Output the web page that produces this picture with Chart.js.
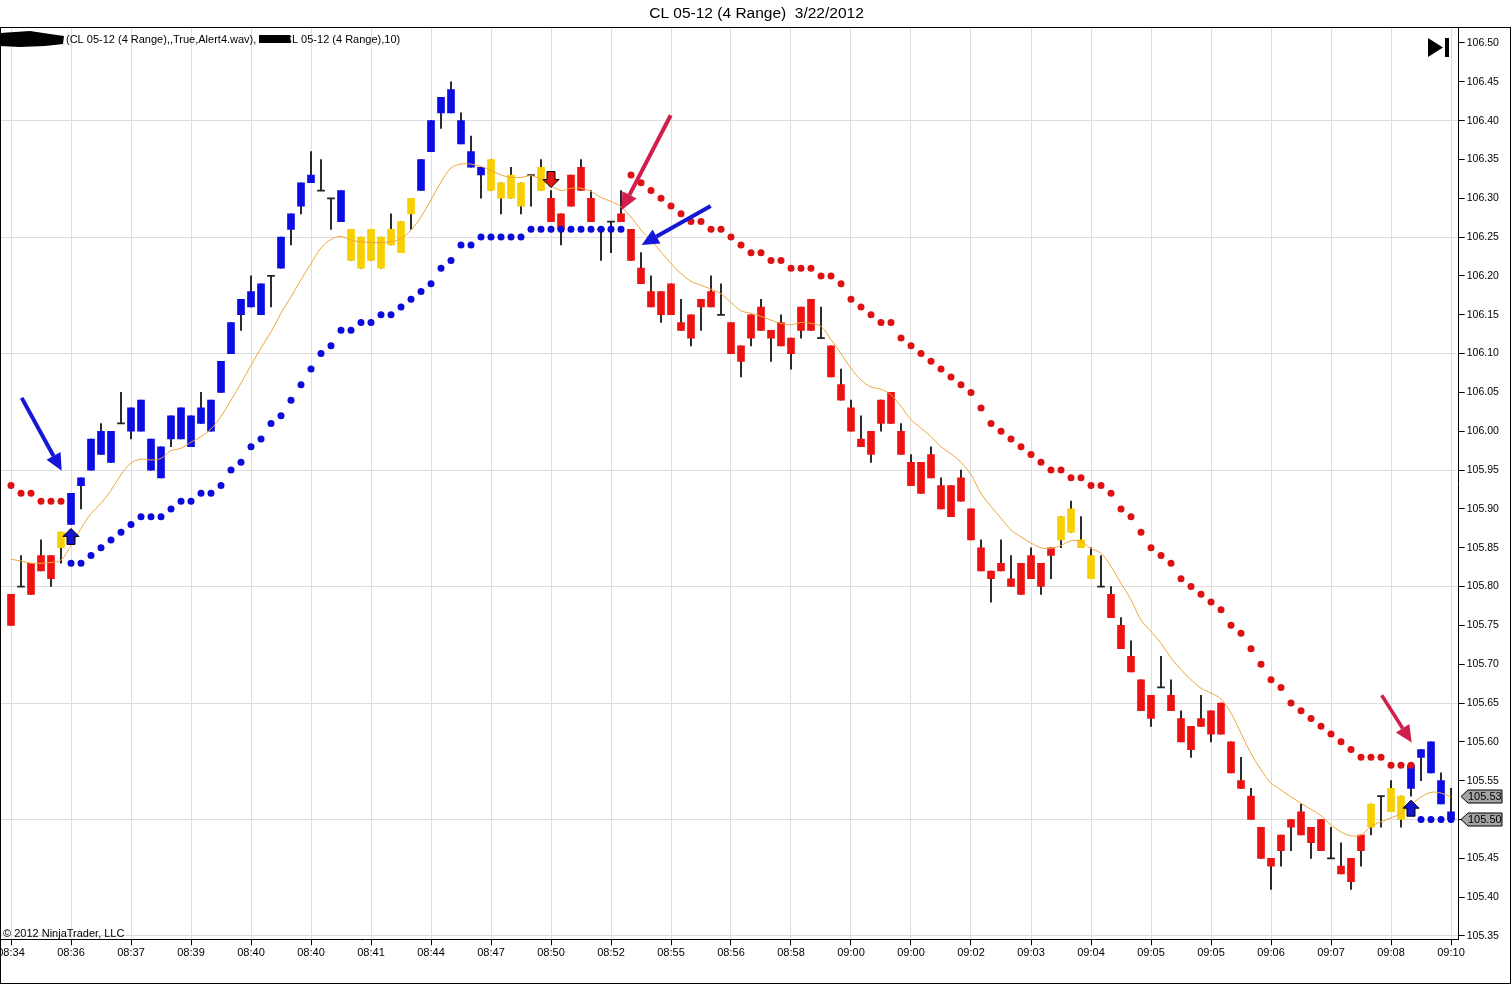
<!DOCTYPE html>
<html>
<head>
<meta charset="utf-8">
<title>CL 05-12 (4 Range) 3/22/2012</title>
<script src="https://cdn.jsdelivr.net/npm/chart.js@4.4.1/dist/chart.umd.min.js"></script>
<style>
  html, body { margin: 0; padding: 0; background: #fff; overflow: hidden; }
  canvas { display: block; }
</style>
</head>
<body>
<canvas id="grafico" width="1512" height="985"></canvas>
<script>
// time labels, one every 6 range bars
var timeLabels = ['08:34','08:36','08:37','08:39','08:40','08:40','08:41','08:44','08:47','08:50','08:52','08:55','08:56',
                  '08:58','09:00','09:00','09:02','09:03','09:04','09:05','09:05','09:06','09:07','09:08','09:10'];

var priceTicks = [105.35,105.40,105.45,105.50,105.55,105.60,105.65,105.70,105.75,105.80,105.85,105.90,
                  105.95,106.00,106.05,106.10,106.15,106.20,106.25,106.30,106.35,106.40,106.45,106.50];

// OHLC of the 145 range bars
var barHigh = [
  105.79,105.84,105.83,105.86,105.84,105.87,105.92,105.94,105.99,106.01,
  106.00,106.05,106.03,106.04,105.99,105.98,106.02,106.03,106.02,106.05,
  106.04,106.09,106.14,106.17,106.20,106.19,106.20,106.25,106.28,106.32,
  106.36,106.35,106.30,106.31,106.26,106.25,106.26,106.25,106.28,106.27,
  106.30,106.35,106.40,106.43,106.45,106.41,106.38,106.34,106.35,106.32,
  106.34,106.32,106.33,106.35,106.31,106.28,106.33,106.35,106.31,106.26,
  106.27,106.31,106.26,106.23,106.20,106.18,106.19,106.17,106.15,106.17,
  106.20,106.19,106.14,106.11,106.15,106.17,106.13,106.15,106.12,106.16,
  106.17,106.16,106.11,106.08,106.04,106.02,106.00,106.04,106.05,106.01,
  105.97,105.96,105.98,105.94,105.93,105.95,105.90,105.86,105.82,105.86,
  105.84,105.83,105.85,105.83,105.85,105.89,105.91,105.89,105.85,105.84,
  105.80,105.76,105.73,105.68,105.66,105.71,105.68,105.64,105.62,105.66,
  105.64,105.65,105.60,105.58,105.54,105.49,105.45,105.48,105.50,105.52,
  105.49,105.50,105.49,105.47,105.45,105.48,105.52,105.53,105.55,105.53,
  105.57,105.59,105.60,105.56,105.54];
var barLow = [
  105.75,105.80,105.79,105.82,105.80,105.83,105.88,105.90,105.95,105.97,
  105.96,106.01,105.99,106.00,105.95,105.94,105.98,105.99,105.98,106.01,
  106.00,106.05,106.10,106.13,106.16,106.15,106.16,106.21,106.24,106.28,
  106.32,106.31,106.26,106.27,106.22,106.21,106.22,106.21,106.24,106.23,
  106.26,106.31,106.36,106.39,106.41,106.37,106.34,106.30,106.31,106.28,
  106.30,106.28,106.29,106.31,106.27,106.24,106.29,106.31,106.27,106.22,
  106.23,106.27,106.22,106.19,106.16,106.14,106.15,106.13,106.11,106.13,
  106.16,106.15,106.10,106.07,106.11,106.13,106.09,106.11,106.08,106.12,
  106.13,106.12,106.07,106.04,106.00,105.98,105.96,106.00,106.01,105.97,
  105.93,105.92,105.94,105.90,105.89,105.91,105.86,105.82,105.78,105.82,
  105.80,105.79,105.81,105.79,105.81,105.85,105.87,105.85,105.81,105.80,
  105.76,105.72,105.69,105.64,105.62,105.67,105.64,105.60,105.58,105.62,
  105.60,105.61,105.56,105.54,105.50,105.45,105.41,105.44,105.46,105.48,
  105.45,105.46,105.45,105.43,105.41,105.44,105.48,105.49,105.51,105.49,
  105.53,105.55,105.56,105.52,105.50];
var barOpen = [
  105.79,105.80,105.83,105.84,105.84,105.85,105.88,105.93,105.95,105.97,
  105.96,106.01,106.00,106.00,105.95,105.94,105.99,105.99,105.98,106.01,
  106.00,106.05,106.10,106.15,106.16,106.15,106.20,106.21,106.26,106.29,
  106.32,106.31,106.30,106.27,106.26,106.21,106.26,106.21,106.24,106.23,
  106.28,106.31,106.36,106.41,106.41,106.40,106.36,106.34,106.35,106.32,
  106.30,106.32,106.33,106.31,106.30,106.28,106.33,106.34,106.30,106.26,
  106.27,106.28,106.26,106.21,106.18,106.18,106.19,106.14,106.15,106.17,
  106.18,106.15,106.14,106.11,106.15,106.16,106.13,106.14,106.12,106.16,
  106.17,106.12,106.11,106.06,106.03,105.99,106.00,106.04,106.05,106.00,
  105.96,105.96,105.97,105.93,105.93,105.94,105.90,105.85,105.82,105.83,
  105.81,105.83,105.84,105.83,105.85,105.86,105.87,105.86,105.84,105.80,
  105.79,105.75,105.71,105.68,105.66,105.67,105.66,105.63,105.62,105.63,
  105.64,105.65,105.60,105.55,105.53,105.49,105.45,105.48,105.50,105.51,
  105.49,105.50,105.45,105.44,105.45,105.48,105.49,105.53,105.51,105.50,
  105.54,105.58,105.56,105.55,105.51];
var barClose = [
  105.75,105.80,105.79,105.82,105.81,105.87,105.92,105.94,105.99,106.00,
  106.00,106.01,106.03,106.04,105.99,105.98,106.02,106.03,106.02,106.03,
  106.04,106.09,106.14,106.17,106.18,106.19,106.20,106.25,106.28,106.32,
  106.33,106.31,106.30,106.31,106.22,106.25,106.22,106.25,106.26,106.27,
  106.30,106.35,106.40,106.43,106.44,106.37,106.34,106.33,106.31,106.30,
  106.33,106.29,106.33,106.34,106.27,106.26,106.29,106.31,106.27,106.26,
  106.27,106.27,106.22,106.19,106.16,106.15,106.15,106.13,106.12,106.16,
  106.16,106.15,106.10,106.09,106.12,106.13,106.12,106.11,106.10,106.13,
  106.13,106.12,106.07,106.04,106.00,105.98,105.97,106.01,106.01,105.97,
  105.93,105.92,105.94,105.90,105.89,105.91,105.86,105.82,105.81,105.82,
  105.80,105.79,105.81,105.80,105.84,105.89,105.90,105.85,105.81,105.80,
  105.76,105.72,105.69,105.64,105.63,105.67,105.64,105.60,105.59,105.62,
  105.61,105.61,105.56,105.54,105.50,105.45,105.44,105.46,105.49,105.48,
  105.47,105.46,105.45,105.43,105.42,105.46,105.52,105.53,105.54,105.53,
  105.57,105.59,105.60,105.52,105.50];

// paint-bar state: r = down trend, b = up trend, y = neutral
var barState = 'rrrrrybbbb' + 'bbbbbbbbbb' + 'bbbbbbbbbb' + 'bbbbyyyyyy' + 'ybbbbbbbyy' +
               'yyyyrrrrrr' + 'rrrrrrrrrr' + 'rrrrrrrrrr' + 'rrrrrrrrrr' + 'rrrrrrrrrr' +
               'rrrrryyyyy' + 'rrrrrrrrrr' + 'rrrrrrrrrr' + 'rrrrrryyyy' + 'bbbbb';

// moving average (orange line)
var maValues = [
  105.835,105.833,105.830,105.830,105.831,105.834,105.853,105.875,105.894,105.907,
  105.924,105.944,105.959,105.964,105.963,105.965,105.975,105.978,105.986,105.993,
  106.003,106.019,106.040,106.062,106.085,106.107,106.128,106.152,106.173,106.195,
  106.216,106.236,106.247,106.251,106.246,106.244,106.243,106.243,106.244,106.248,
  106.259,106.276,106.298,106.321,106.339,106.344,106.344,106.341,106.336,106.330,
  106.327,106.327,106.329,106.324,106.316,106.310,106.313,106.313,106.309,106.301,
  106.296,106.289,106.276,106.259,106.246,106.231,106.216,106.203,106.193,106.188,
  106.183,106.177,106.166,106.155,106.152,106.148,106.143,106.139,106.137,106.140,
  106.139,106.135,106.118,106.100,106.081,106.066,106.057,106.054,106.047,106.032,
  106.015,106.004,105.993,105.980,105.971,105.960,105.944,105.920,105.903,105.888,
  105.873,105.864,105.856,105.850,105.849,105.853,105.859,105.858,105.849,105.843,
  105.826,105.804,105.783,105.757,105.742,105.727,105.708,105.693,105.680,105.669,
  105.663,105.655,105.637,105.611,105.585,105.564,105.547,105.538,105.529,105.521,
  105.513,105.505,105.493,105.484,105.479,105.480,105.491,105.497,105.502,105.508,
  105.519,105.529,105.535,105.534,105.529];

// trailing stop above price (red dots)
var stopAbove = [
  105.93,105.92,105.92,105.91,105.91,105.91,null,null,null,null,
  null,null,null,null,null,null,null,null,null,null,
  null,null,null,null,null,null,null,null,null,null,
  null,null,null,null,null,null,null,null,null,null,
  null,null,null,null,null,null,null,null,null,null,
  null,null,null,null,null,null,null,null,null,null,
  null,null,106.33,106.32,106.31,106.30,106.29,106.28,106.27,106.27,
  106.26,106.26,106.25,106.24,106.23,106.23,106.22,106.22,106.21,106.21,
  106.21,106.20,106.20,106.19,106.17,106.16,106.15,106.14,106.14,106.12,
  106.11,106.10,106.09,106.08,106.07,106.06,106.05,106.03,106.01,106.00,
  105.99,105.98,105.97,105.96,105.95,105.95,105.94,105.94,105.93,105.93,
  105.92,105.90,105.89,105.87,105.85,105.84,105.83,105.81,105.80,105.79,
  105.78,105.77,105.75,105.74,105.72,105.70,105.68,105.67,105.65,105.64,
  105.63,105.62,105.61,105.60,105.59,105.58,105.58,105.58,105.57,105.57,
  105.57,null,null,null,null];

// trailing stop below price (blue dots)
var stopBelow = [
  null,null,null,null,null,null,105.83,105.83,105.84,105.85,
  105.86,105.87,105.88,105.89,105.89,105.89,105.90,105.91,105.91,105.92,
  105.92,105.93,105.95,105.96,105.98,105.99,106.01,106.02,106.04,106.06,
  106.08,106.10,106.11,106.13,106.13,106.14,106.14,106.15,106.15,106.16,
  106.17,106.18,106.19,106.21,106.22,106.24,106.24,106.25,106.25,106.25,
  106.25,106.25,106.26,106.26,106.26,106.26,106.26,106.26,106.26,106.26,
  106.26,106.26,null,null,null,null,null,null,null,null,
  null,null,null,null,null,null,null,null,null,null,
  null,null,null,null,null,null,null,null,null,null,
  null,null,null,null,null,null,null,null,null,null,
  null,null,null,null,null,null,null,null,null,null,
  null,null,null,null,null,null,null,null,null,null,
  null,null,null,null,null,null,null,null,null,null,
  null,null,null,null,null,null,null,null,null,null,
  null,105.50,105.50,105.50,105.50];

// signal markers (bar index)
var upSignals = [6, 140];
var downSignals = [54];

// hand drawn arrows, [bar index, price] from -> to
var noteFrom = [[1.07, 106.043], [65.97, 106.407], [69.97, 106.290], [137.07, 105.660]];
var noteTo   = [[5.07, 105.949], [61.07, 106.285], [63.07, 106.240], [140.07, 105.599]];
var noteKind = ['blue', 'crimson', 'blue', 'crimson'];

// last values shown on the price axis
var priceMarkers = [105.53, 105.50];

var FONT = "'Liberation Sans', Arial, sans-serif";
var colores = { r: '#EE1111', b: '#0C0CE4', y: '#F8D000' };
var notaColores = { blue: '#1616D8', crimson: '#D21E4C' };

function dibujarFlechaBloque(ctx, cx, t, d, relleno) {
    ctx.beginPath();
    ctx.moveTo(cx, t);
    ctx.lineTo(cx + 8, t + 8 * d);
    ctx.lineTo(cx + 4, t + 8 * d);
    ctx.lineTo(cx + 4, t + 16 * d);
    ctx.lineTo(cx - 4, t + 16 * d);
    ctx.lineTo(cx - 4, t + 8 * d);
    ctx.lineTo(cx - 8, t + 8 * d);
    ctx.closePath();
    ctx.fillStyle = relleno;
    ctx.fill();
    ctx.lineWidth = 1;
    ctx.strokeStyle = '#000';
    ctx.stroke();
}

function dibujarFlecha(ctx, x0, y0, x1, y1, color, ancho) {
    var ang = Math.atan2(y1 - y0, x1 - x0);
    var largo = 17, medio = 8;
    var bx = x1 - largo * Math.cos(ang), by = y1 - largo * Math.sin(ang);
    ctx.strokeStyle = color;
    ctx.lineWidth = ancho;
    ctx.lineCap = 'butt';
    ctx.beginPath();
    ctx.moveTo(x0, y0);
    ctx.lineTo(bx, by);
    ctx.stroke();
    ctx.fillStyle = color;
    ctx.beginPath();
    ctx.moveTo(x1, y1);
    ctx.lineTo(bx + medio * Math.sin(ang), by - medio * Math.cos(ang));
    ctx.lineTo(bx - medio * Math.sin(ang), by + medio * Math.cos(ang));
    ctx.closePath();
    ctx.fill();
}

var extras = {
    id: 'extras',
    afterDatasetsDraw: function (chart) {
        var ctx = chart.ctx, x = chart.scales.x, y = chart.scales.y;
        ctx.save();
        upSignals.forEach(function (i) {
            dibujarFlechaBloque(ctx, x.getPixelForValue(i), y.getPixelForValue(barLow[i]) + 4, 1, '#1414CC');
        });
        downSignals.forEach(function (i) {
            dibujarFlechaBloque(ctx, x.getPixelForValue(i), y.getPixelForValue(barHigh[i]) - 3, -1, '#E01414');
        });
        for (var k = 0; k < noteFrom.length; k++) {
            dibujarFlecha(ctx,
                x.getPixelForValue(noteFrom[k][0]), y.getPixelForValue(noteFrom[k][1]),
                x.getPixelForValue(noteTo[k][0]), y.getPixelForValue(noteTo[k][1]),
                notaColores[noteKind[k]], k === 3 ? 3.5 : 4);
        }
        ctx.restore();
    },
    afterDraw: function (chart) {
        var ctx = chart.ctx, y = chart.scales.y;
        ctx.save();

        // indicator line (names blacked out in the original)
        ctx.font = '11px ' + FONT;
        ctx.fillStyle = '#000';
        ctx.textBaseline = 'alphabetic';
        ctx.fillText('(CL 05-12 (4 Range),,True,Alert4.wav),', 66, 43);
        ctx.fillText('CL 05-12 (4 Range),10)', 284, 43);
        ctx.beginPath();
        ctx.moveTo(0, 33); ctx.lineTo(30, 31); ctx.lineTo(50, 34); ctx.lineTo(64, 36); ctx.lineTo(63, 44);
        ctx.lineTo(45, 46); ctx.lineTo(20, 47); ctx.lineTo(0, 46); ctx.closePath();
        ctx.fill();
        ctx.beginPath();
        ctx.moveTo(259, 35); ctx.lineTo(290, 35); ctx.lineTo(291, 43); ctx.lineTo(259, 43); ctx.closePath();
        ctx.fill();

        // go-to-end button
        ctx.beginPath();
        ctx.moveTo(1428, 38); ctx.lineTo(1443, 47.5); ctx.lineTo(1428, 57); ctx.closePath();
        ctx.fill();
        ctx.fillRect(1445, 38, 4, 19);

        ctx.fillText('\u00A9 2012 NinjaTrader, LLC', 3, 937);

        // price markers on the axis
        priceMarkers.forEach(function (v) {
            var py = Math.round(y.getPixelForValue(v)) + 0.5;
            ctx.beginPath();
            ctx.moveTo(1461, py);
            ctx.lineTo(1468, py - 6.5);
            ctx.lineTo(1502, py - 6.5);
            ctx.lineTo(1502, py + 6.5);
            ctx.lineTo(1468, py + 6.5);
            ctx.closePath();
            ctx.fillStyle = '#A4A4A4';
            ctx.fill();
            ctx.strokeStyle = '#000';
            ctx.lineWidth = 1;
            ctx.stroke();
            ctx.fillStyle = '#000';
            ctx.textBaseline = 'middle';
            ctx.fillText(v.toFixed(2), 1468, py + 0.5);
        });

        // outer frame
        ctx.strokeStyle = '#000';
        ctx.lineWidth = 1;
        ctx.strokeRect(0.5, 27.5, 1510, 956);
        ctx.restore();
    }
};

var cuerpos = barOpen.map(function (o, i) {
    var c = barClose[i];
    if (o === c) return { x: i, y: [o - 0.0007, o + 0.0007] };
    return { x: i, y: [Math.min(o, c), Math.max(o, c)] };
});
var coloresCuerpo = barOpen.map(function (o, i) {
    return o === barClose[i] ? '#222' : colores[barState[i]];
});

var grafico = new Chart(document.getElementById('grafico'), {
    type: 'bar',
    data: {
        datasets: [
            {
                type: 'line', label: 'MA',
                data: maValues.map(function (v, i) { return { x: i, y: v }; }),
                borderColor: '#EFA63C', borderWidth: 1, pointRadius: 0, tension: 0.35, order: 0
            },
            {
                type: 'line', label: 'Stop arriba',
                data: stopAbove.map(function (v, i) { return { x: i, y: v }; }),
                showLine: false, pointRadius: 3.5, pointBorderWidth: 0,
                pointBackgroundColor: '#DD1111', order: 1
            },
            {
                type: 'line', label: 'Stop abajo',
                data: stopBelow.map(function (v, i) { return { x: i, y: v }; }),
                showLine: false, pointRadius: 3.5, pointBorderWidth: 0,
                pointBackgroundColor: '#0A0ADA', order: 1
            },
            {
                label: 'Cuerpo', data: cuerpos, backgroundColor: coloresCuerpo,
                barThickness: 7, grouped: false, borderWidth: 0, order: 2
            },
            {
                label: 'Mecha',
                data: barHigh.map(function (h, i) { return { x: i, y: [barLow[i], h] }; }),
                backgroundColor: '#000', barThickness: 1, grouped: false, borderWidth: 0, order: 3
            }
        ]
    },
    options: {
        responsive: false,
        animation: false,
        events: [],
        layout: { autoPadding: false, padding: { left: 1, top: 0, right: 0, bottom: 0 } },
        plugins: {
            legend: { display: false },
            tooltip: { enabled: false },
            title: {
                display: true,
                text: 'CL 05-12 (4 Range)  3/22/2012',
                color: '#000',
                font: { family: FONT, size: 15.5, weight: 'normal', lineHeight: 1.2 },
                padding: { top: 4, bottom: 4.4 }
            }
        },
        scales: {
            x: {
                type: 'linear', min: -1, max: 144.77, offset: false,
                afterBuildTicks: function (axis) {
                    axis.ticks = timeLabels.map(function (t, k) { return { value: k * 6 }; });
                },
                afterFit: function (axis) {
                    axis.height = 45.7;
                    axis.paddingLeft = 0;
                    axis.paddingRight = 0;
                },
                ticks: {
                    autoSkip: false, maxRotation: 0, minRotation: 0, padding: 1, color: '#000',
                    font: { family: FONT, size: 11 },
                    callback: function (v) { return timeLabels[Math.round(v / 6)]; }
                },
                grid: { color: '#DEDEDE', tickColor: '#000', tickLength: 6, offset: false },
                border: { color: '#000' }
            },
            y: {
                position: 'right', min: 105.3457, max: 106.5206,
                afterBuildTicks: function (axis) {
                    axis.ticks = priceTicks.map(function (v) { return { value: v }; });
                },
                afterFit: function (axis) {
                    axis.width = 53.3;
                    axis.paddingTop = 0;
                    axis.paddingBottom = 0;
                },
                ticks: {
                    padding: 2, color: '#000', font: { family: FONT, size: 10.5 },
                    callback: function (v) { return v.toFixed(2); }
                },
                grid: {
                    color: function (c) {
                        if (!c.tick) return 'rgba(0,0,0,0)';
                        var n = Math.round((c.tick.value - 105.35) / 0.05);
                        return n % 3 === 0 ? '#DEDEDE' : 'rgba(0,0,0,0)';
                    },
                    tickColor: '#000', tickLength: 6
                },
                border: { color: '#000' }
            }
        }
    },
    plugins: [extras]
});
</script>
</body>
</html>
